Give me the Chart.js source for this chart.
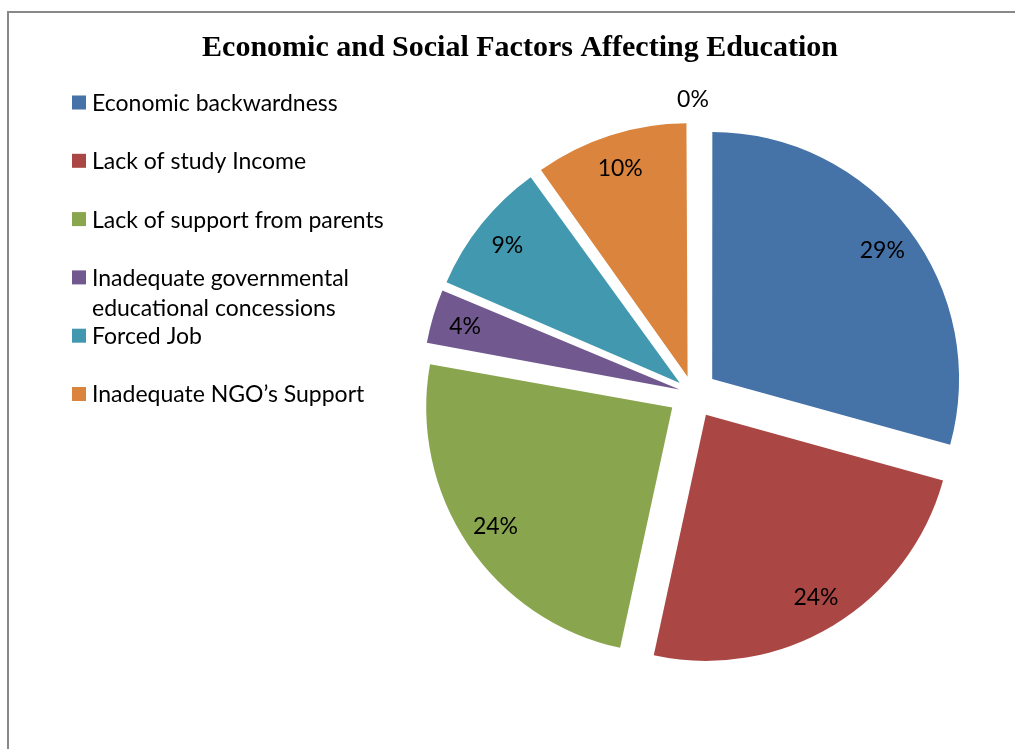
<!DOCTYPE html>
<html>
<head>
<meta charset="utf-8">
<script src="https://cdn.jsdelivr.net/npm/chart.js@4.4.1/dist/chart.umd.min.js"></script>
<style>
  html, body { margin: 0; padding: 0; background: #fff; }
  #wrap { position: relative; width: 1015px; height: 749px; }
</style>
</head>
<body>
<div id="wrap"><canvas id="pieChart"></canvas></div>
<script>
const TITULO = 'Economic and Social Factors Affecting Education';
const CATEGORIAS = [
    'Economic backwardness',
    'Lack of study Income',
    'Lack of support from parents',
    ['Inadequate governmental', 'educational concessions'],
    'Forced Job',
    'Inadequate NGO\u2019s Support',
    '' // categoría vacía con 0%
];
const VALORES = [29.3, 24.1, 24.4, 3.6, 8.7, 9.9, 0];
const COLORES = ['#4572A7', '#AA4643', '#89A54E', '#71588F', '#4198AF', '#DB843D', '#93A9CF'];

const EXPLOSION = 25;      // px que se separa cada porción
const POS_ETIQUETA = 0.865; // fracción del radio para las etiquetas
const FUENTE = 'Lato, "Open Sans", sans-serif';

// Chart.js mueve cada arco offset/4 * (1 + fix); se compensa para que todos se separen igual
function offsetPorcion(ctx) {
    const total = VALORES.reduce((a, b) => a + b, 0);
    const circ = total ? ctx.raw / total * 2 * Math.PI : 0;
    const fix = 1 - Math.sin(Math.min(Math.PI, circ));
    return EXPLOSION * 4 / (1 + fix);
}

const extrasPlugin = {
    id: 'extras',
    afterDraw(chart) {
        const ctx = chart.ctx;
        ctx.save();

        // Marco gris (arriba e izquierda)
        ctx.strokeStyle = '#888888';
        ctx.lineWidth = 2;
        ctx.beginPath();
        ctx.moveTo(8, chart.height);
        ctx.lineTo(8, 12);
        ctx.lineTo(chart.width, 12);
        ctx.stroke();

        // Título
        ctx.fillStyle = '#000';
        ctx.font = 'bold 30px "Liberation Serif", "Times New Roman", serif';
        ctx.textAlign = 'center';
        ctx.textBaseline = 'middle';
        ctx.fillText(TITULO, 520, 48);

        // Leyenda
        ctx.font = '23px ' + FUENTE;
        ctx.textAlign = 'left';
        let fila = 0;
        CATEGORIAS.forEach((cat, i) => {
            if (!cat || (Array.isArray(cat) && !cat.length)) return;
            const yc = 102.5 + fila * 58.3;
            ctx.fillStyle = COLORES[i];
            ctx.fillRect(72, yc - 7, 14, 14);
            ctx.fillStyle = '#000';
            const lineas = Array.isArray(cat) ? cat : [cat];
            lineas.forEach((t, k) => ctx.fillText(t, 92, yc + 1 + k * 30));
            fila++;
        });

        // Etiquetas de porcentaje
        const meta = chart.getDatasetMeta(0);
        const total = VALORES.reduce((a, b) => a + b, 0);
        ctx.font = '23px ' + FUENTE;
        ctx.textAlign = 'center';
        ctx.fillStyle = '#000';
        meta.data.forEach((arc, i) => {
            const p = arc.getProps(['x', 'y', 'startAngle', 'endAngle', 'outerRadius'], true);
            const medio = (p.startAngle + p.endAngle) / 2;
            const dist = VALORES[i] > 0
                ? p.outerRadius * POS_ETIQUETA + EXPLOSION
                : p.outerRadius + EXPLOSION + 24;
            const pct = Math.round(VALORES[i] / total * 100) + '%';
            ctx.fillText(pct, p.x + Math.cos(medio) * dist, p.y + Math.sin(medio) * dist + 1);
        });

        ctx.restore();
    }
};

const chartInstance = new Chart(document.getElementById('pieChart'), {
    type: 'pie',
    data: {
        labels: CATEGORIAS,
        datasets: [{
            data: VALORES,
            backgroundColor: COLORES,
            borderWidth: 0,
            offset: offsetPorcion,
            hoverOffset: 0
        }]
    },
    options: {
        responsive: true,
        maintainAspectRatio: false,
        animation: false,
        radius: 246,
        layout: { padding: { left: 371, right: 0, top: 64, bottom: 26 } },
        events: [],
        plugins: {
            legend: { display: false },
            title: { display: false },
            tooltip: { enabled: false }
        }
    },
    plugins: [extrasPlugin]
});
</script>
</body>
</html>
